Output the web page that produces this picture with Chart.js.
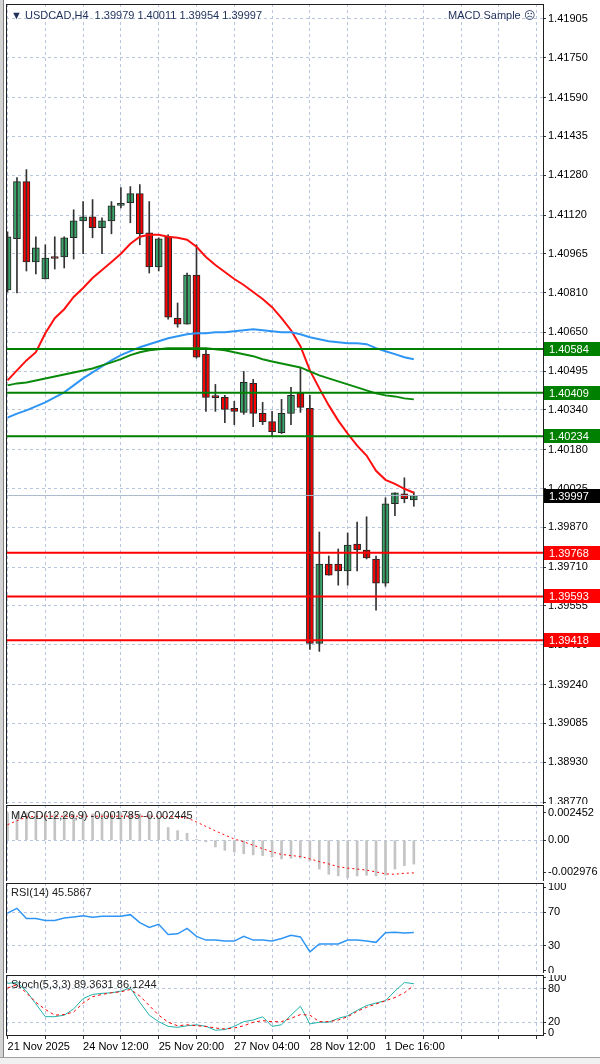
<!DOCTYPE html>
<html>
<head>
<meta charset="utf-8">
<script src="https://cdn.jsdelivr.net/npm/chart.js@4"></script>
<style>
  body { margin: 0; width: 600px; height: 1064px; background: #fff; position: relative; overflow: hidden; font-family: "Liberation Sans", sans-serif; }
  .pane { position: absolute; left: 6px; width: 594px; }
  .lbl { position: absolute; font-size: 11px; color: #1f2f5a; white-space: nowrap; }
  #frameL { position: absolute; left: 0; top: 0; width: 3px; height: 1064px; background: #d4d4d4; border-right: 1px solid #808080; }
  #bottom { position: absolute; left: 0; top: 1057px; width: 600px; height: 7px; background: #f0f0f0; border-top: 1px solid #a0a0a0; }
</style>
</head>
<body>
<div id="frameL"></div>
<div class="pane" style="top:4px;height:800px"><canvas id="main"></canvas></div>
<div class="pane" style="top:805px;height:76px"><canvas id="macd"></canvas></div>
<div class="pane" style="top:883px;height:90px"><canvas id="rsi"></canvas></div>
<div class="pane" style="top:975px;height:82px"><canvas id="stoch"></canvas></div>
<div id="bottom"></div>
<div class="lbl" style="left:11px;top:9px">&#9660; USDCAD,H4&nbsp; 1.39979 1.40011 1.39954 1.39997</div>
<div class="lbl" style="left:448px;top:9px">MACD Sample &#9785;</div>
<div class="lbl" style="left:11px;top:809px;color:#222">MACD(12,26,9) -0.001785 -0.002445</div>
<div class="lbl" style="left:11px;top:886px;color:#222">RSI(14) 45.5867</div>
<div class="lbl" style="left:11px;top:978px;color:#222">Stoch(5,3,3) 89.3631 86.1244</div>
<script>
// H4 bars, index 0 = 21 Nov 2025 00:00
const OPEN = [1.40820,1.41025,1.41254,1.40932,1.40864,1.40948,1.40952,1.41029,1.41097,1.41113,1.41069,1.41097,1.41159,1.41170,1.41206,1.41049,1.40912,1.41033,1.40707,1.40683,1.40880,1.40563,1.40390,1.40390,1.40346,1.40330,1.40446,1.40326,1.40293,1.40249,1.40326,1.40406,1.40346,1.39405,1.39723,1.39723,1.39695,1.39803,1.39779,1.39743,1.39646,1.39964,1.40004,1.39979];
const HIGH = [1.41053,1.41270,1.41302,1.41033,1.41001,1.41033,1.41033,1.41141,1.41174,1.41182,1.41109,1.41174,1.41230,1.41234,1.41242,1.41174,1.41029,1.41041,1.40768,1.40888,1.41001,1.40587,1.40442,1.40398,1.40374,1.40494,1.40462,1.40370,1.40334,1.40382,1.40430,1.40506,1.40398,1.39851,1.39755,1.39783,1.39847,1.39891,1.39912,1.39755,1.39988,1.40008,1.40068,1.40011];
const LOW = [1.40812,1.40808,1.40896,1.40884,1.40864,1.40904,1.40908,1.40944,1.40965,1.41029,1.40965,1.41045,1.41149,1.41089,1.41001,1.40888,1.40896,1.40703,1.40671,1.40683,1.40547,1.40334,1.40334,1.40289,1.40281,1.40322,1.40273,1.40281,1.40237,1.40245,1.40281,1.40330,1.39381,1.39373,1.39678,1.39638,1.39638,1.39695,1.39743,1.39538,1.39634,1.39916,1.39968,1.39954];
const CLOSE = [1.41033,1.41254,1.40932,1.40989,1.40948,1.40946,1.41029,1.41097,1.41113,1.41069,1.41097,1.41157,1.41161,1.41206,1.41045,1.40912,1.41025,1.40711,1.40683,1.40880,1.40551,1.40390,1.40389,1.40342,1.40334,1.40450,1.40326,1.40293,1.40253,1.40326,1.40398,1.40350,1.39405,1.39723,1.39678,1.39695,1.39799,1.39779,1.39747,1.39646,1.39964,1.40008,1.39984,1.39997];

const MA_RED = [1.40458,1.40498,1.40538,1.40571,1.40647,1.40707,1.40743,1.40792,1.40828,1.40868,1.40900,1.40932,1.40965,1.41005,1.41033,1.41041,1.41041,1.41033,1.41029,1.41021,1.40993,1.40952,1.40920,1.40892,1.40864,1.40840,1.40812,1.40784,1.40751,1.40707,1.40659,1.40595,1.40498,1.40426,1.40358,1.40297,1.40245,1.40197,1.40157,1.40096,1.40060,1.40044,1.40024,1.40008];
const MA_BLUE = [1.40309,1.40325,1.40338,1.40354,1.40370,1.40390,1.40410,1.40438,1.40466,1.40490,1.40514,1.40538,1.40559,1.40575,1.40591,1.40603,1.40615,1.40627,1.40635,1.40643,1.40647,1.40647,1.40651,1.40651,1.40655,1.40659,1.40663,1.40659,1.40655,1.40651,1.40651,1.40643,1.40631,1.40623,1.40615,1.40611,1.40607,1.40607,1.40603,1.40587,1.40575,1.40563,1.40551,1.40543];
const MA_GREEN = [1.40438,1.40446,1.40450,1.40458,1.40466,1.40474,1.40482,1.40490,1.40498,1.40506,1.40518,1.40530,1.40543,1.40559,1.40571,1.40579,1.40583,1.40587,1.40587,1.40587,1.40587,1.40587,1.40583,1.40579,1.40571,1.40563,1.40555,1.40543,1.40534,1.40526,1.40518,1.40510,1.40494,1.40478,1.40466,1.40454,1.40442,1.40430,1.40418,1.40406,1.40398,1.40394,1.40386,1.40382];

const LEVELS_GREEN = [1.40584, 1.40409, 1.40234];
const LEVELS_RED = [1.39768, 1.39593, 1.39418];
const LAST_PRICE = 1.39997;
const PRICE_TICKS = [1.41905,1.41750,1.41590,1.41435,1.41280,1.41120,1.40965,1.40810,1.40650,1.40495,1.40340,1.40180,1.40025,1.39870,1.39710,1.39555,1.39400,1.39240,1.39085,1.38930,1.38770];

const MACD_HIST = [0.00204,0.00204,0.00204,0.00204,0.00204,0.00196,0.00196,0.00196,0.00196,0.00196,0.00196,0.00196,0.00204,0.00196,0.00196,0.00191,0.00166,0.00094,0.00071,0.00051,0.00005,-0.00013,-0.00051,-0.00076,-0.00089,-0.00102,-0.00110,-0.00115,-0.00127,-0.00140,-0.00135,-0.00135,-0.00153,-0.00216,-0.00255,-0.00267,-0.00280,-0.00267,-0.00262,-0.00267,-0.00262,-0.00216,-0.00191,-0.001785];
const MACD_SIGNAL = [0.00115,0.00145,0.00171,0.00178,0.00178,0.00178,0.00178,0.00178,0.00178,0.00178,0.00178,0.00178,0.00178,0.00178,0.00178,0.00178,0.00178,0.00175,0.00172,0.00166,0.00135,0.00102,0.00069,0.00038,0.00008,-0.00013,-0.00038,-0.00064,-0.00089,-0.00107,-0.00115,-0.00122,-0.00140,-0.00160,-0.00178,-0.00199,-0.00209,-0.00216,-0.00224,-0.00237,-0.00252,-0.00255,-0.00247,-0.002445];
// axis tags: MT4 writes the range max/min just inside the pane
const MACD_TICKS = [0.00205, 0, -0.00238];
const MACD_TICK_TEXT = ['0.002452', '0.00', '-0.002976'];
const RSI = [68.9,74.6,62.4,62.4,60.0,60.0,63.0,64.3,65.8,64.0,65.0,65.0,65.0,67.0,57.4,51.7,55.5,43.3,44.0,50.6,41.0,36.5,36.5,35.3,35.3,41.0,36.5,36.5,35.3,38.4,42.2,40.3,22.4,31.9,31.9,31.9,36.5,36.5,35.3,33.8,45.2,46.0,44.9,45.5867];
const STOCH_MAIN = [90.0,91.5,76.0,53.0,30.0,30.0,32.7,44.0,62.7,70.0,72.0,73.0,76.0,81.7,55.8,32.7,21.0,12.5,10.8,13.6,15.4,12.5,5.6,6.7,12.5,21.0,24.0,29.8,12.5,15.4,32.7,48.8,17.0,20.0,20.0,27.0,31.5,41.3,50.0,54.6,58.7,76.0,91.5,89.3631];
const STOCH_SIGNAL = [81.7,87.5,73.0,55.8,43.0,32.7,33.8,38.5,54.6,66.0,70.0,73.0,74.8,78.9,67.3,50.0,32.7,20.0,13.6,15.4,13.6,12.5,9.6,7.9,9.6,13.6,20.0,22.9,21.0,21.0,27.0,33.8,32.7,21.0,21.0,24.0,29.8,39.6,47.0,52.9,58.7,64.4,73.0,86.1244];
const TIME_LABELS = {0:'21 Nov 2025', 8:'24 Nov 12:00', 16:'25 Nov 20:00', 24:'27 Nov 04:00', 32:'28 Nov 12:00', 40:'1 Dec 16:00'};

const X_MIN = -0.16, X_MAX = 56.67;
const GRID = '#b7c6dc';
const FONT = {family: 'Liberation Sans', size: 11};

const pts = arr => arr.map((v, i) => ({x: i, y: v}));
const flat = v => [{x: X_MIN, y: v}, {x: X_MAX, y: v}];

const frame = {
	id: 'frame',
	afterDraw(chart) {
		const {ctx, chartArea: a} = chart;
		ctx.save();
		ctx.strokeStyle = '#202020';
		ctx.lineWidth = 1;
		ctx.strokeRect(a.left + 0.5, a.top + 0.5, a.right - a.left, a.bottom - a.top);
		ctx.restore();
	}
};

function xScale(showLabels) {
	return {
		type: 'linear', min: X_MIN, max: X_MAX, offset: false,
		afterBuildTicks: s => { s.ticks = []; for (let i = 0; i <= 56; i += 4) s.ticks.push({value: i}); },
		afterFit: s => { s.height = showLabels ? 22 : 0; },
		grid: {color: GRID, drawTicks: showLabels, tickLength: 4, tickColor: '#333', offset: false},
		border: {display: false, dash: [3, 3]},
		ticks: {
			display: showLabels, autoSkip: false, maxRotation: 0, align: 'start', color: '#000', font: FONT, padding: 1,
			callback: v => TIME_LABELS[v] || ''
		}
	};
}

function yScale(min, max, ticks, fmt, gridVals) {
	return {
		position: 'right', min, max,
		afterBuildTicks: s => { s.ticks = ticks.map(v => ({value: v})); },
		afterFit: s => { s.width = 57; s.paddingTop = 0; s.paddingBottom = 0; },
		grid: {
			color: c => (!gridVals || gridVals.includes(c.tick.value)) ? GRID : 'rgba(0,0,0,0)',
			drawTicks: true, tickLength: 3, tickColor: '#333'
		},
		border: {display: false, dash: [3, 3]},
		ticks: {color: '#000', font: FONT, padding: 2, callback: fmt}
	};
}

const baseOpts = {
	responsive: true, maintainAspectRatio: false, animation: false,
	layout: {padding: 0},
	plugins: {legend: {display: false}, tooltip: {enabled: false}}
};

// level tags on the price axis
const tags = {
	id: 'tags',
	afterDraw(chart) {
		const {ctx, chartArea: a} = chart;
		const y = chart.scales.y;
		const list = [
			...LEVELS_GREEN.map(v => [v, '#008000']),
			...LEVELS_RED.map(v => [v, '#ff0000']),
			[LAST_PRICE, '#000000']
		];
		ctx.save();
		ctx.font = '11px "Liberation Sans"';
		ctx.textBaseline = 'middle';
		list.forEach(([v, col]) => {
			const py = Math.round(y.getPixelForValue(v));
			ctx.fillStyle = col;
			ctx.fillRect(a.right + 1, py - 7, 56, 14);
			ctx.fillStyle = '#fff';
			ctx.fillText(v.toFixed(5), a.right + 6, py + 0.5);
		});
		ctx.restore();
	}
};

const isUp = CLOSE.map((c, i) => c >= OPEN[i]);

new Chart(document.getElementById('main'), {
	type: 'bar',
	data: {
		datasets: [
			{type: 'line', data: flat(LAST_PRICE), borderColor: '#aab8cc', borderWidth: 1, pointRadius: 0},
			...LEVELS_GREEN.map(v => ({type: 'line', data: flat(v), borderColor: '#008000', borderWidth: 2, pointRadius: 0})),
			...LEVELS_RED.map(v => ({type: 'line', data: flat(v), borderColor: '#ff0000', borderWidth: 2, pointRadius: 0})),
			{type: 'line', data: pts(MA_GREEN), borderColor: '#0a8a0a', borderWidth: 2, pointRadius: 0},
			{type: 'line', data: pts(MA_BLUE), borderColor: '#2f95f5', borderWidth: 2, pointRadius: 0},
			{type: 'line', data: pts(MA_RED), borderColor: '#ff1010', borderWidth: 2, pointRadius: 0},
			{data: LOW.map((l, i) => ({x: i, y: [l, HIGH[i]]})), backgroundColor: '#333', barThickness: 1, grouped: false},
			{
				data: OPEN.map((o, i) => ({x: i, y: [o, CLOSE[i]]})),
				backgroundColor: isUp.map(u => u ? '#3aa56a' : '#ff0000'),
				borderColor: '#222', borderWidth: 1, borderSkipped: false,
				barThickness: 7, minBarLength: 2, grouped: false
			}
		]
	},
	options: {
		...baseOpts,
		scales: {
			x: xScale(false),
			y: yScale(1.38762, 1.41965, PRICE_TICKS, v => v.toFixed(5))
		}
	},
	plugins: [frame, tags]
});

new Chart(document.getElementById('macd'), {
	type: 'bar',
	data: {
		datasets: [
			{type: 'line', data: pts(MACD_SIGNAL), borderColor: '#ff0000', borderWidth: 1, borderDash: [2, 3], pointRadius: 0},
			{data: pts(MACD_HIST), backgroundColor: '#c4c4c4', barThickness: 2}
		]
	},
	options: {
		...baseOpts,
		scales: {
			x: xScale(false),
			y: yScale(-0.00305, 0.00262, MACD_TICKS, (v, i) => MACD_TICK_TEXT[i], [0])
		}
	},
	plugins: [frame]
});

new Chart(document.getElementById('rsi'), {
	type: 'line',
	data: {datasets: [{data: pts(RSI), borderColor: '#2f95f5', borderWidth: 1.5, pointRadius: 0}]},
	options: {
		...baseOpts,
		scales: {x: xScale(false), y: yScale(-3, 105, [100, 70, 30, 0], v => String(v), [70, 30])}
	},
	plugins: [frame]
});

new Chart(document.getElementById('stoch'), {
	type: 'line',
	data: {
		datasets: [
			{data: pts(STOCH_SIGNAL), borderColor: '#ff0000', borderWidth: 1, borderDash: [3, 3], pointRadius: 0},
			{data: pts(STOCH_MAIN), borderColor: '#20b2aa', borderWidth: 1, pointRadius: 0}
		]
	},
	options: {
		...baseOpts,
		scales: {x: xScale(true), y: yScale(-3, 105, [100, 80, 20, 0], v => String(v), [80, 20])}
	},
	plugins: [frame]
});
</script>
</body>
</html>
